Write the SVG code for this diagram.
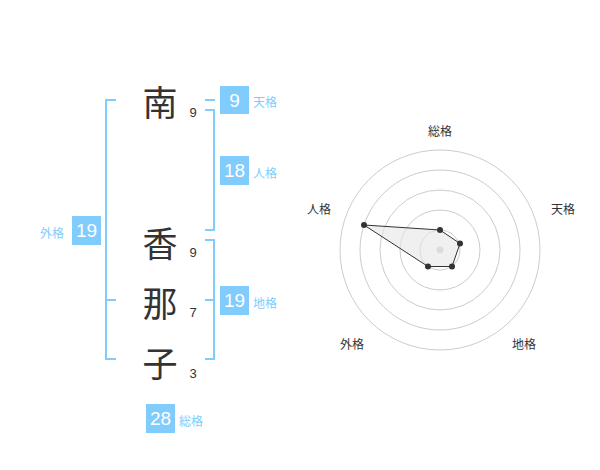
<svg xmlns="http://www.w3.org/2000/svg" width="600" height="470" viewBox="0 0 600 470">
<style>
.kanji{font-family:"Noto Sans CJK JP","Noto Sans CJK SC",sans-serif;font-size:35px;fill:#333;text-anchor:middle;dominant-baseline:central}
.num{font-family:"Liberation Sans",Arial,sans-serif;font-size:13px;fill:#333;text-anchor:middle;dominant-baseline:central}
.box{fill:#80ccfd}
.boxt{font-family:"Liberation Sans",Arial,sans-serif;font-size:19px;fill:#fff;text-anchor:middle;dominant-baseline:central}
.lab{font-family:"Noto Sans CJK JP","Noto Sans CJK SC",sans-serif;font-size:12px;fill:#80ccfd;dominant-baseline:central}
.br{fill:none;stroke:#80ccfd;stroke-width:2}
.ring{fill:none;stroke:#ccc;stroke-width:1}
.rlab{font-family:"Noto Sans CJK JP","Noto Sans CJK SC",sans-serif;font-size:12px;fill:#333;text-anchor:middle;dominant-baseline:central}
.pt{fill:#333}
</style>
<rect width="600" height="470" fill="#fff"/>
<g id="connectors">
<polyline class="br" points="116,100 106,100 106,359 116,359"/>
<line class="br" x1="106" y1="300" x2="116" y2="300"/>
<line class="br" x1="205" y1="100" x2="215" y2="100"/>
<polyline class="br" points="205,110 214,110 214,230 205,230"/>
<polyline class="br" points="205,240 214,240 214,359 205,359"/>
<line class="br" x1="205" y1="300" x2="214" y2="300"/>
</g>
<g id="char-minami"><text class="kanji" x="160" y="100">南</text><text class="num" x="193" y="112">9</text></g>
<g id="char-ka"><text class="kanji" x="160" y="241">香</text><text class="num" x="193" y="252">9</text></g>
<g id="char-na"><text class="kanji" x="160" y="301">那</text><text class="num" x="193" y="312">7</text></g>
<g id="char-ko"><text class="kanji" x="160" y="361">子</text><text class="num" x="193" y="373">3</text></g>
<g id="tenkaku"><rect class="box" x="220" y="86" width="29" height="28"/><text class="boxt" x="234.5" y="100">9</text><text class="lab" x="253" y="101">天格</text></g>
<g id="jinkaku"><rect class="box" x="220" y="156" width="29" height="29"/><text class="boxt" x="234.5" y="170.5">18</text><text class="lab" x="253" y="172">人格</text></g>
<g id="gaikaku"><rect class="box" x="72" y="216" width="29" height="29"/><text class="boxt" x="86.5" y="230.5">19</text><text class="lab" x="40" y="232">外格</text></g>
<g id="chikaku"><rect class="box" x="220" y="286" width="29" height="29"/><text class="boxt" x="234.5" y="300.5">19</text><text class="lab" x="253" y="302">地格</text></g>
<g id="soukaku"><rect class="box" x="146" y="404" width="29" height="29"/><text class="boxt" x="160.5" y="418.5">28</text><text class="lab" x="179" y="420">総格</text></g>
<g id="radar">
<circle class="ring" cx="440" cy="250" r="20"/>
<circle class="ring" cx="440" cy="250" r="40"/>
<circle class="ring" cx="440" cy="250" r="60"/>
<circle class="ring" cx="440" cy="250" r="80"/>
<circle class="ring" cx="440" cy="250" r="100"/>
<circle cx="440" cy="250" r="3.5" fill="#ccc"/>
<polygon points="440,230 460,243.5 452,266.5 428,266.5 364,225" fill="#e6e6e6" fill-opacity="0.6" stroke="#333" stroke-width="1"/>
<circle class="pt" cx="440" cy="230" r="3"/>
<circle class="pt" cx="460" cy="243.5" r="3"/>
<circle class="pt" cx="452" cy="266.5" r="3"/>
<circle class="pt" cx="428" cy="266.5" r="3"/>
<circle class="pt" cx="364" cy="225" r="3"/>
<text class="rlab" x="440" y="130">総格</text>
<text class="rlab" x="563" y="208">天格</text>
<text class="rlab" x="319" y="208">人格</text>
<text class="rlab" x="352" y="343">外格</text>
<text class="rlab" x="524" y="343">地格</text>
</g>
</svg>
